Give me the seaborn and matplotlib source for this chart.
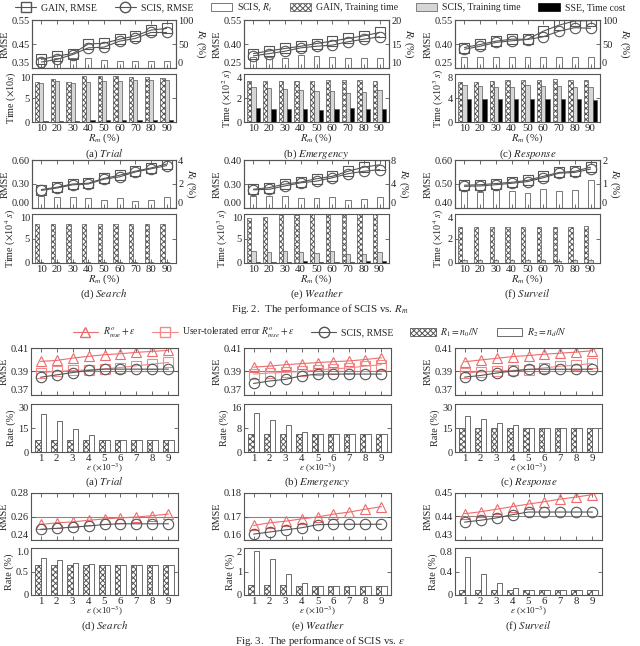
import numpy as np
import pandas as pd
import matplotlib
matplotlib.use("Agg")
import matplotlib.pyplot as plt
import seaborn as sns
from matplotlib.lines import Line2D
from matplotlib.patches import Patch

sns.set_style("ticks")
plt.rcParams['font.family'] = ['Liberation Serif', 'DejaVu Serif']
plt.rcParams['mathtext.fontset'] = 'stix'
plt.rcParams['hatch.linewidth'] = 0.7
plt.rcParams['hatch.color'] = '#555555'

# ---------------- Fig. 2 data ----------------
rm = [10, 20, 30, 40, 50, 60, 70, 80, 90]
datasets = ['Trial', 'Emergency', 'Response', 'Search', 'Weather', 'Surveil']
letters = ['a', 'b', 'c', 'd', 'e', 'f']

gain_rmse = {
    'Trial':     [0.386, 0.400, 0.410, 0.450, 0.453, 0.470, 0.484, 0.508, 0.515],
    'Emergency': [0.340, 0.357, 0.372, 0.386, 0.403, 0.418, 0.435, 0.451, 0.472],
    'Response':  [0.378, 0.397, 0.418, 0.430, 0.430, 0.480, 0.518, 0.544, 0.546],
    'Search':    [0.23, 0.26, 0.30, 0.31, 0.37, 0.41, 0.46, 0.50, 0.55],
    'Weather':   [0.278, 0.285, 0.300, 0.308, 0.322, 0.332, 0.353, 0.370, 0.380],
    'Surveil':   [0.495, 0.497, 0.502, 0.507, 0.515, 0.532, 0.548, 0.553, 0.570],
}
scis_rmse = {
    'Trial':     [0.375, 0.386, 0.406, 0.434, 0.437, 0.462, 0.473, 0.498, 0.498],
    'Emergency': [0.326, 0.340, 0.355, 0.376, 0.386, 0.393, 0.414, 0.430, 0.445],
    'Response':  [0.367, 0.386, 0.410, 0.420, 0.428, 0.445, 0.480, 0.502, 0.498],
    'Search':    [0.22, 0.25, 0.29, 0.30, 0.36, 0.39, 0.45, 0.49, 0.53],
    'Weather':   [0.276, 0.278, 0.292, 0.305, 0.312, 0.326, 0.343, 0.353, 0.360],
    'Surveil':   [0.490, 0.492, 0.497, 0.503, 0.510, 0.526, 0.545, 0.548, 0.562],
}
scis_rt = {
    'Trial':     [20, 20, 21, 20, 16, 14, 15, 15, 14],
    'Emergency': [12.3, 12.3, 12.1, 12.8, 12.5, 12.2, 12.1, 12.0, 12.0],
    'Response':  [23, 23, 23, 23, 23, 23, 23, 23, 23],
    'Search':    [0.97, 0.90, 0.95, 0.80, 0.70, 0.80, 0.62, 0.68, 0.90],
    'Weather':   [2.05, 1.95, 2.05, 1.73, 1.60, 1.80, 1.35, 1.50, 1.80],
    'Surveil':   [0.72, 0.68, 0.76, 0.69, 0.62, 0.78, 0.72, 0.76, 1.15],
}
gain_time = {
    'Trial':     [8.3, 9.0, 8.3, 9.6, 9.5, 9.5, 9.4, 9.4, 9.2],
    'Emergency': [3.45, 3.45, 3.40, 3.45, 3.45, 3.50, 3.50, 3.50, 3.45],
    'Response':  [6.7, 6.6, 6.9, 7.0, 7.0, 7.0, 7.1, 7.0, 7.0],
    'Search':    [8.0, 8.0, 8.0, 8.0, 8.0, 8.0, 8.0, 8.0, 8.0],
    'Weather':   [9.2, 9.4, 9.7, 9.7, 10.0, 10.0, 10.0, 10.0, 10.0],
    'Surveil':   [2.95, 2.95, 2.95, 2.95, 2.95, 2.95, 2.95, 2.95, 2.98],
}
scis_time = {
    'Trial':     [8.1, 8.6, 8.2, 8.3, 8.6, 8.6, 8.7, 8.8, 8.8],
    'Emergency': [2.95, 2.85, 2.75, 2.65, 2.55, 2.55, 2.45, 2.50, 2.65],
    'Response':  [6.1, 6.0, 5.9, 5.9, 6.1, 6.0, 6.0, 5.9, 5.8],
    'Search':    [0.15, 0.15, 0.15, 0.15, 0.15, 0.15, 0.15, 0.15, 0.15],
    'Weather':   [2.4, 2.2, 2.4, 2.2, 2.0, 2.4, 1.9, 1.9, 2.2],
    'Surveil':   [0.25, 0.22, 0.25, 0.22, 0.22, 0.22, 0.20, 0.22, 0.25],
}
sse_time = {
    'Trial':     [0.30, 0.30, 0.30, 0.35, 0.35, 0.35, 0.35, 0.35, 0.35],
    'Emergency': [1.15, 1.10, 1.05, 1.05, 1.00, 1.10, 1.15, 1.10, 1.10],
    'Response':  [3.8, 3.8, 3.8, 3.8, 3.8, 3.8, 3.8, 3.8, 3.6],
    'Search':    [0.05, 0.05, 0.05, 0.05, 0.05, 0.05, 0.05, 0.05, 0.05],
    'Weather':   [0.30, 0.30, 0.30, 0.35, 0.30, 0.30, 0.30, 0.35, 0.35],
    'Surveil':   [0.03, 0.03, 0.03, 0.03, 0.03, 0.03, 0.03, 0.03, 0.03],
}
rmse_ticks2 = {
    'Trial': [0.35, 0.45, 0.55], 'Emergency': [0.25, 0.40, 0.55],
    'Response': [0.25, 0.40, 0.55], 'Search': [0.00, 0.30, 0.60],
    'Weather': [0.20, 0.30, 0.40], 'Surveil': [0.40, 0.50, 0.60],
}
rmse_labels2 = {
    'Trial': ['0.35', '0.45', '0.55'], 'Emergency': ['0.25', '0.40', '0.55'],
    'Response': ['0.25', '0.40', '0.55'], 'Search': ['0.00', '0.30', '0.60'],
    'Weather': ['0.00', '0.30', '0.40'], 'Surveil': ['0.40', '0.50', '0.60'],
}
rt_ticks = {
    'Trial': [0, 50, 100], 'Emergency': [10, 15, 20], 'Response': [0, 50, 100],
    'Search': [0, 2, 4], 'Weather': [0, 4, 8], 'Surveil': [0, 1, 2],
}
time_ticks = {
    'Trial': [0, 5, 10], 'Emergency': [0, 2, 4], 'Response': [0, 4, 8],
    'Search': [0, 5, 10], 'Weather': [0, 5, 10], 'Surveil': [0, 2, 4],
}
time_labels = {
    'Trial': r'Time ($\times$10$s$)', 'Emergency': r'Time ($\times$10$^2$ $s$)',
    'Response': r'Time ($\times$10$^3$ $s$)', 'Search': r'Time ($\times$10$^4$ $s$)',
    'Weather': r'Time ($\times$10$^3$ $s$)', 'Surveil': r'Time ($\times$10$^4$ $s$)',
}

# ---------------- Fig. 3 data ----------------
eps = [1, 2, 3, 4, 5, 6, 7, 8, 9]
tri_rmse = {
    'Trial':     [0.3986, 0.3994, 0.4014, 0.4029, 0.4043, 0.4051, 0.4063, 0.4071, 0.4080],
    'Emergency': [0.3937, 0.3946, 0.3958, 0.3967, 0.3976, 0.3984, 0.3990, 0.4002, 0.4017],
    'Response':  [0.3983, 0.3998, 0.4012, 0.4027, 0.4036, 0.4047, 0.4056, 0.4065, 0.4077],
    'Search':    [0.2532, 0.2546, 0.2554, 0.2568, 0.2579, 0.2588, 0.2596, 0.2607, 0.2621],
    'Weather':   [0.1662, 0.1673, 0.1680, 0.1690, 0.1698, 0.1710, 0.1719, 0.1731, 0.1742],
    'Surveil':   [0.4412, 0.4420, 0.4431, 0.4442, 0.4453, 0.4463, 0.4474, 0.4483, 0.4493],
}
user_rmse = {
    'Trial':     [0.3891, 0.3900, 0.3909, 0.3914, 0.3923, 0.3934, 0.3949, 0.3963, 0.3977],
    'Emergency': [0.3878, 0.3887, 0.3893, 0.3900, 0.3913, 0.3922, 0.3931, 0.3946, 0.3958],
    'Response':  [0.3887, 0.3896, 0.3904, 0.3910, 0.3916, 0.3931, 0.3945, 0.3954, 0.3969],
}
scis_rmse3 = {
    'Trial':     [0.3851, 0.3871, 0.3891, 0.3909, 0.3920, 0.3920, 0.3920, 0.3920, 0.3920],
    'Emergency': [0.3798, 0.3819, 0.3833, 0.3863, 0.3878, 0.3878, 0.3878, 0.3878, 0.3878],
    'Response':  [0.3852, 0.3866, 0.3887, 0.3904, 0.3919, 0.3919, 0.3919, 0.3919, 0.3919],
    'Search':    [0.2491, 0.2499, 0.2510, 0.2519, 0.2532, 0.2538, 0.2538, 0.2538, 0.2538],
    'Weather':   [0.1625, 0.1634, 0.1643, 0.1652, 0.1665, 0.1667, 0.1667, 0.1667, 0.1667],
    'Surveil':   [0.4376, 0.4384, 0.4394, 0.4408, 0.4419, 0.4419, 0.4419, 0.4419, 0.4419],
}
r1_rate = {
    'Trial':     [7.8, 7.8, 7.8, 7.8, 7.8, 7.8, 7.8, 7.8, 7.8],
    'Emergency': [6.0, 6.0, 6.0, 6.0, 6.0, 6.0, 6.0, 6.0, 6.0],
    'Response':  [15, 15, 15, 15, 15, 15, 15, 15, 15],
    'Search':    [0.64, 0.64, 0.64, 0.64, 0.64, 0.64, 0.64, 0.64, 0.64],
    'Weather':   [0.43, 0.43, 0.43, 0.40, 0.40, 0.40, 0.40, 0.40, 0.40],
    'Surveil':   [0.09, 0.09, 0.09, 0.09, 0.09, 0.09, 0.09, 0.09, 0.09],
}
r2_rate = {
    'Trial':     [23.8, 19.1, 14.6, 10.9, 7.8, 7.8, 7.8, 7.8, 7.8],
    'Emergency': [12.9, 10.7, 9.1, 6.6, 6.0, 6.0, 6.0, 6.0, 6.0],
    'Response':  [22.6, 20.5, 18.1, 16.6, 15, 15, 15, 15, 15],
    'Search':    [0.78, 0.74, 0.69, 0.67, 0.64, 0.64, 0.64, 0.64, 0.64],
    'Weather':   [1.89, 1.52, 0.88, 0.50, 0.40, 0.40, 0.40, 0.40, 0.40],
    'Surveil':   [0.65, 0.35, 0.20, 0.12, 0.09, 0.09, 0.09, 0.09, 0.09],
}
rmse_ticks3 = {
    'Trial': [0.37, 0.39, 0.41], 'Emergency': [0.37, 0.39, 0.41],
    'Response': [0.37, 0.39, 0.41], 'Search': [0.24, 0.26, 0.28],
    'Weather': [0.16, 0.17, 0.18], 'Surveil': [0.43, 0.44, 0.45],
}
rmse_labels3 = {
    'Trial': ['0.37', '0.39', '0.41'], 'Emergency': ['0.37', '0.39', '0.41'],
    'Response': ['0.37', '0.39', '0.41'], 'Search': ['0.24', '0.26', '0.28'],
    'Weather': ['0.16', '0.17', '0.18'], 'Surveil': ['0.43', '0.44', '0.45'],
}
rate_ticks = {
    'Trial': [0, 15, 30], 'Emergency': [0, 8, 16], 'Response': [0, 15, 30],
    'Search': [0, 0.5, 1.0], 'Weather': [0, 1, 2], 'Surveil': [0, 0.4, 0.8],
}
rate_labels = {
    'Trial': ['0', '15', '30'], 'Emergency': ['0', '8', '16'], 'Response': ['0', '15', '30'],
    'Search': ['0', '0.5', '1.0'], 'Weather': ['0', '1', '2'], 'Surveil': ['0', '0.4', '0.8'],
}

# ---------------- styling ----------------
W, H = 640, 646
GRAY = '#555555'
RED = '#ee6b6b'
RED2 = '#f28a8a'
TICK_FS = 7.5
LAB_FS = 7.3
CAP_FS = 7.8
LEG_FS = 7.0

fig = plt.figure(figsize=(W / 100, H / 100), dpi=100)


def add_ax(x0, x1, y0, y1):
    return fig.add_axes([x0 / W, 1 - y1 / H, (x1 - x0) / W, (y1 - y0) / H])


def style(ax, top=False, right=True, bottom=True):
    for s in ax.spines.values():
        s.set_color(GRAY)
        s.set_linewidth(0.8)
    ax.tick_params(direction='in', length=3, width=0.6, color=GRAY,
                   labelsize=TICK_FS, pad=1.5, top=top, right=right, bottom=bottom)


def separate_labels(ax_top, ax_bottom):
    # keep the touching tick labels of stacked axes apart
    ax_top.get_yticklabels()[0].set_va('bottom')
    ax_bottom.get_yticklabels()[-1].set_va('top')


fig2_cols = [(32, 176), (244, 389), (455, 600)]
fig2_rows = [(20, 68, 74, 122, 154), (160, 208, 214, 263, 294)]
fig3_cols = [(31, 178), (244, 391), (455, 602)]
fig3_rows = [(348, 395, 404, 452, 482), (493, 540, 548, 595, 626)]

# ---------------- Fig. 2 ----------------
for i, name in enumerate(datasets):
    cx0, cx1 = fig2_cols[i % 3]
    ty0, ty1, by0, by1, cap_y = fig2_rows[i // 3]
    axt = add_ax(cx0, cx1, ty0, ty1)
    axb = add_ax(cx0, cx1, by0, by1)

    ax2 = axt.twinx()
    sns.barplot(x=rm, y=scis_rt[name], native_scale=True, width=0.38,
                color='white', edgecolor='#777777', linewidth=0.7,
                saturation=1, ax=ax2)
    axt.set_zorder(ax2.get_zorder() + 1)
    axt.patch.set_visible(False)
    sns.lineplot(x=rm, y=gain_rmse[name], marker='s', markersize=7,
                 markerfacecolor='none', markeredgecolor=GRAY, markeredgewidth=0.8,
                 color=GRAY, linewidth=0.8, ax=axt)
    sns.lineplot(x=rm, y=scis_rmse[name], marker='o', markersize=7.5,
                 markerfacecolor='none', markeredgecolor=GRAY, markeredgewidth=0.8,
                 color=GRAY, linewidth=0.8, ax=axt)
    rt_t = rt_ticks[name]
    ax2.set_ylim(rt_t[0], rt_t[-1])
    ax2.set_yticks(rt_t)
    ax2.set_yticklabels([str(v) for v in rt_t])
    ax2.set_ylabel(r'$R_t$ (%)', rotation=270, fontsize=LAB_FS + 0.5, labelpad=10)
    rk = rmse_ticks2[name]
    axt.set_ylim(rk[0], rk[-1])
    axt.set_yticks(rk)
    axt.set_yticklabels(rmse_labels2[name])
    axt.set_ylabel('RMSE', fontsize=LAB_FS, labelpad=1.5)
    axt.set_xlabel('')
    style(axt, top=True, right=False)
    style(ax2, top=True, right=True)
    ax2.tick_params(left=False)
    axt.set_xticks(rm)
    axt.tick_params(labelbottom=False, bottom=True)

    df = pd.DataFrame({
        'Rm': rm * 3,
        'val': gain_time[name] + scis_time[name] + sse_time[name],
        'kind': ['GAIN'] * 9 + ['SCIS'] * 9 + ['SSE'] * 9,
    })
    sns.barplot(data=df, x='Rm', y='val', hue='kind', native_scale=True, width=0.8,
                palette=['white', '#d6d6d6', 'black'], edgecolor=GRAY, linewidth=0.5,
                saturation=1, legend=False, ax=axb)
    for bar in axb.containers[0]:
        bar.set_hatch('xxxxxx')
    tt = time_ticks[name]
    axb.set_ylim(tt[0], tt[-1])
    axb.set_yticks(tt)
    axb.set_yticklabels([str(v) for v in tt])
    axb.set_ylabel(time_labels[name], fontsize=LAB_FS, labelpad=1.5)
    axb.set_xticks(rm)
    axb.set_xticklabels([str(v) for v in rm])
    axb.set_xlabel(r'$R_m$ (%)', fontsize=LAB_FS + 0.3, labelpad=-1)
    style(axb, top=False, right=True)
    axb.tick_params(axis='x', labelsize=TICK_FS + 0.3)
    axt.set_xlim(4, 96)
    axb.set_xlim(4, 96)
    separate_labels(axt, axb)
    ax2.get_yticklabels()[0].set_va('bottom')

    fig.text((cx0 + cx1) / 2 / W, 1 - cap_y / H,
             '(' + letters[i] + ') ' + r'$\it{' + name + '}$',
             ha='center', va='center', fontsize=CAP_FS)

fig.text(0.5, 1 - 309 / H, r'Fig. 2.  The performance of SCIS vs. $R_m$',
         ha='center', va='center', fontsize=CAP_FS)

leg2 = [
    Line2D([], [], color=GRAY, lw=0.8, marker='s', mfc='none', mec=GRAY, ms=7),
    Line2D([], [], color=GRAY, lw=0.8, marker='o', mfc='none', mec=GRAY, ms=7.5),
    Patch(facecolor='white', edgecolor='#777777', lw=0.7),
    Patch(facecolor='white', edgecolor=GRAY, hatch='xxxxxx', lw=0.5),
    Patch(facecolor='#d6d6d6', edgecolor=GRAY, lw=0.5),
    Patch(facecolor='black', edgecolor='black', lw=0.5),
]
fig.legend(leg2, ['GAIN, RMSE', 'SCIS, RMSE', r'SCIS, $R_t$', 'GAIN, Training time',
                  'SCIS, Training time', 'SSE, Time cost'],
           loc='center', bbox_to_anchor=(0.5, 1 - 8 / H), ncol=6, frameon=False,
           fontsize=LEG_FS, handlelength=2.2, handletextpad=0.5, columnspacing=1.8,
           borderpad=0, handleheight=0.9)

# ---------------- Fig. 3 ----------------
for i, name in enumerate(datasets):
    cx0, cx1 = fig3_cols[i % 3]
    ty0, ty1, by0, by1, cap_y = fig3_rows[i // 3]
    axt = add_ax(cx0, cx1, ty0, ty1)
    axb = add_ax(cx0, cx1, by0, by1)

    axt.yaxis.grid(True, color='#888888', lw=0.8)
    axt.set_axisbelow(True)
    sns.lineplot(x=eps, y=tri_rmse[name], marker='^', markersize=7.5,
                 markerfacecolor='none', markeredgecolor=RED, markeredgewidth=0.8,
                 color=RED, linewidth=0.8, ax=axt)
    if name in user_rmse:
        sns.lineplot(x=eps, y=user_rmse[name], marker='s', markersize=7,
                     markerfacecolor='none', markeredgecolor=RED2, markeredgewidth=0.8,
                     color=RED2, linewidth=0.8, ax=axt)
    sns.lineplot(x=eps, y=scis_rmse3[name], marker='o', markersize=7.5,
                 markerfacecolor='none', markeredgecolor=GRAY, markeredgewidth=0.8,
                 color=GRAY, linewidth=0.8, ax=axt)
    rk = rmse_ticks3[name]
    axt.set_ylim(rk[0], rk[-1])
    axt.set_yticks(rk)
    axt.set_yticklabels(rmse_labels3[name])
    axt.set_ylabel('RMSE', fontsize=LAB_FS, labelpad=1.5)
    axt.set_xlabel('')
    axt.set_xticks(eps)
    style(axt, top=True, right=True)
    axt.tick_params(labelbottom=False)

    df = pd.DataFrame({
        'eps': eps * 2,
        'val': r1_rate[name] + r2_rate[name],
        'kind': ['R1'] * 9 + ['R2'] * 9,
    })
    sns.barplot(data=df, x='eps', y='val', hue='kind', native_scale=True, width=0.66,
                palette=['white', 'white'], edgecolor=GRAY, linewidth=0.6,
                saturation=1, legend=False, ax=axb)
    for bar in axb.containers[0]:
        bar.set_hatch('xxxxxx')
    rt3 = rate_ticks[name]
    axb.set_ylim(rt3[0], rt3[-1])
    axb.set_yticks(rt3)
    axb.set_yticklabels(rate_labels[name])
    axb.set_ylabel('Rate (%)', fontsize=LAB_FS, labelpad=1.5)
    axb.set_xticks(eps)
    axb.set_xticklabels([str(v) for v in eps])
    axb.set_xlabel(r'$\varepsilon$ ($\times$10$^{-3}$)', fontsize=LAB_FS - 0.8, labelpad=-1)
    style(axb, top=False, right=True)
    axb.tick_params(axis='x', labelsize=TICK_FS + 0.3)
    axt.set_xlim(0.4, 9.6)
    axb.set_xlim(0.4, 9.6)
    separate_labels(axt, axb)

    fig.text((cx0 + cx1) / 2 / W, 1 - cap_y / H,
             '(' + letters[i] + ') ' + r'$\it{' + name + '}$',
             ha='center', va='center', fontsize=CAP_FS)

fig.text(0.5, 1 - 640.5 / H, r'Fig. 3.  The performance of SCIS vs. $\varepsilon$',
         ha='center', va='center', fontsize=CAP_FS)

leg3 = [
    Line2D([], [], color=RED, lw=0.8, marker='^', mfc='none', mec=RED, ms=7.5),
    Line2D([], [], color=RED2, lw=0.8, marker='s', mfc='none', mec=RED2, ms=7),
    Line2D([], [], color=GRAY, lw=0.8, marker='o', mfc='none', mec=GRAY, ms=7.5),
    Patch(facecolor='white', edgecolor=GRAY, hatch='xxxxxx', lw=0.6),
    Patch(facecolor='white', edgecolor=GRAY, lw=0.6),
]
fig.legend(leg3, [r'$R^{o}_{mse}+\varepsilon$', r'User-tolerated error $R^{o}_{mse}+\varepsilon$',
                  'SCIS, RMSE', r'$R_1=n_0/N$', r'$R_2=n_d/N$'],
           loc='center', bbox_to_anchor=(0.5, 1 - 333 / H), ncol=5, frameon=False,
           fontsize=LEG_FS, handlelength=2.6, handletextpad=0.5, columnspacing=1.7,
           borderpad=0, handleheight=0.9)

fig.savefig('out.png', dpi=100)
